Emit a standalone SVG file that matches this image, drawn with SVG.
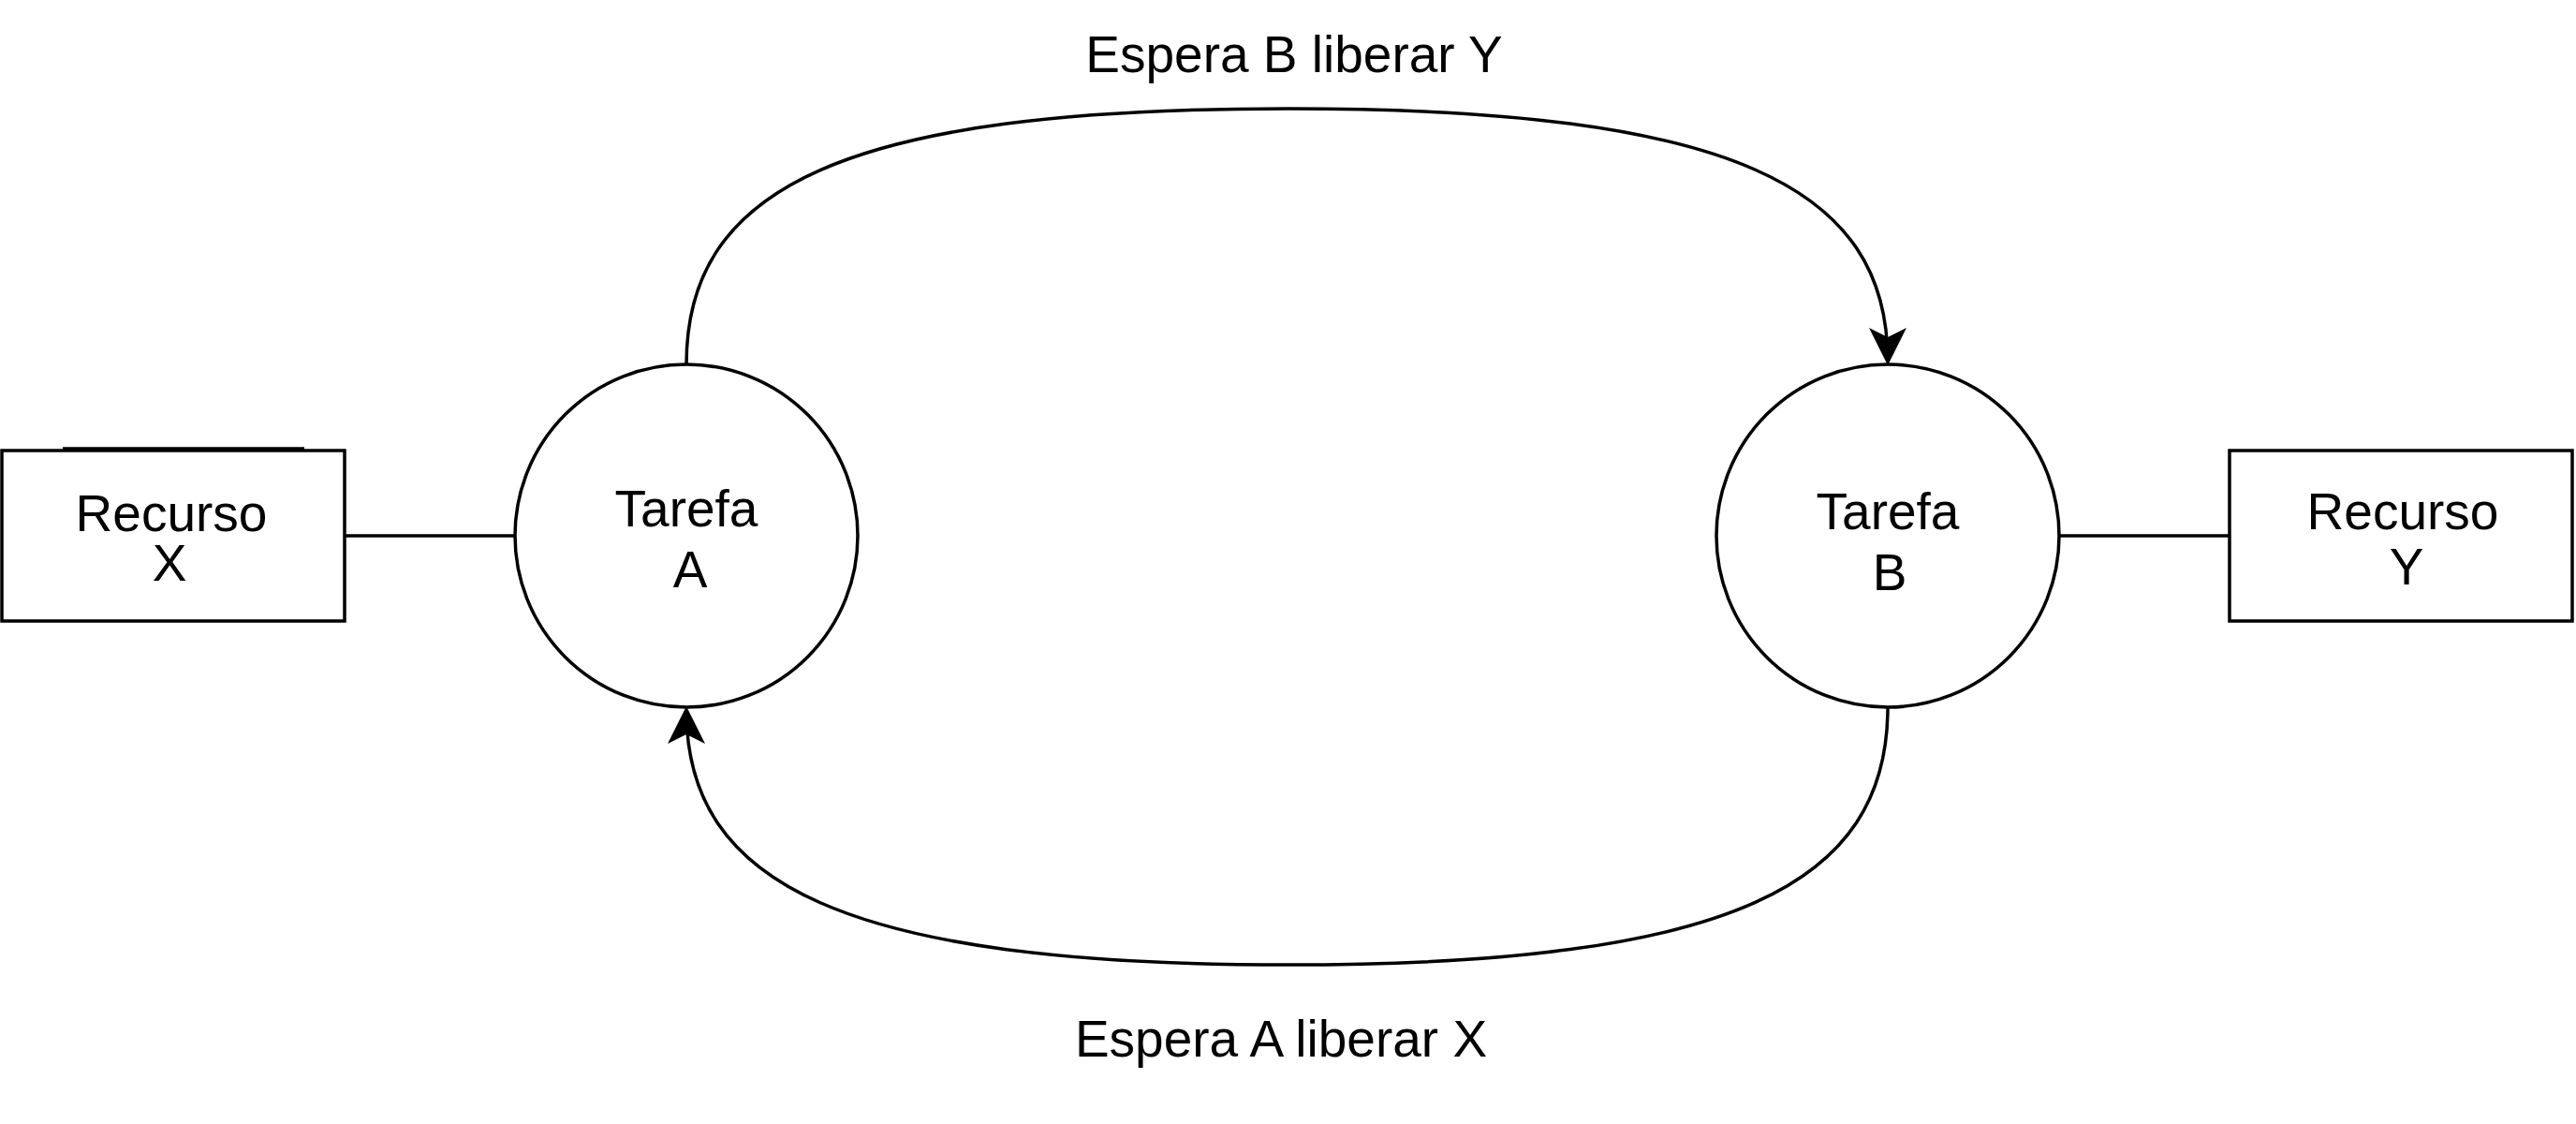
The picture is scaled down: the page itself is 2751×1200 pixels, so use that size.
<svg xmlns="http://www.w3.org/2000/svg" width="2751" height="1200" viewBox="0 0 2751 1200">
<style>
.s{fill:#fff;stroke:#000;stroke-width:3.5}
.c{fill:none;stroke:#000;stroke-width:3.5}
text{font-family:"Liberation Sans",Arial,sans-serif;font-size:55px;text-anchor:middle;fill:#000}
</style>
<defs><marker id="b" viewBox="0 0 10 10" refX="9" refY="5" markerWidth="40" markerHeight="40" markerUnits="userSpaceOnUse" orient="auto"><path d="M0,0 L10,5 L0,10 L2.5,5 Z" fill="#000"/></marker></defs>
<g id="connectors">
<line class="c" x1="368" y1="572" x2="551" y2="572"/>
<line class="c" x1="2199" y1="572" x2="2381" y2="572"/>
<path class="c" d="M733,389 C733,200 900,116 1376,116 C1852,116 2016,200 2016,386" marker-end="url(#b)"/>
<path class="c" d="M2016,755 C2016,944 1852,1030 1376,1030 C900,1030 733,944 733,758" marker-end="url(#b)"/>
<text x="1382" y="77">Espera B liberar Y</text>
<text x="1368" y="1128">Espera A liberar X</text>
</g>
<g id="recursoX"><rect class="s" x="2" y="481" width="366" height="182"/><line class="c" x1="67" y1="479" x2="325" y2="479" stroke-width="2"/><text x="183" y="567">Recurso</text><text x="181" y="620">X</text></g>
<g id="tarefaA"><circle class="s" cx="733" cy="572" r="183"/><text x="733" y="562">Tarefa</text><text x="737" y="627">A</text></g>
<g id="tarefaB"><circle class="s" cx="2016" cy="572" r="183"/><text x="2016" y="565">Tarefa</text><text x="2018" y="630">B</text></g>
<g id="recursoY"><rect class="s" x="2381" y="481" width="366" height="182"/><text x="2566" y="565">Recurso</text><text x="2570" y="624">Y</text></g>
</svg>
